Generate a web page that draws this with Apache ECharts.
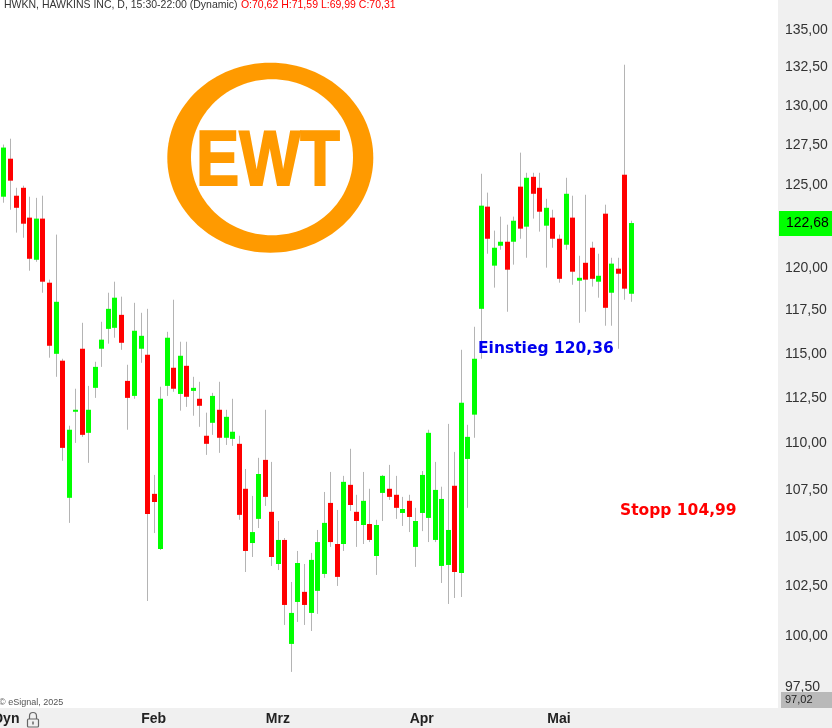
<!DOCTYPE html>
<html>
<head>
<meta charset="utf-8">
<script src="https://cdn.jsdelivr.net/npm/echarts@6/dist/echarts.min.js"></script>
<style>
  html, body { margin: 0; padding: 0; background: #fff; }
  #chart { width: 832px; height: 728px; }
</style>
</head>
<body>
<div id="chart"></div>
<script>
// ---- data (HWKN daily candles) ----
const opens  = [124.29,126.65,124.35,124.84,123.01,120.47,122.95,119.11,114.99,114.60,
                107.08,111.74,115.28,110.58,113.07,115.28,116.42,116.48,117.23,113.46,
                112.62,115.28,114.94,107.29,104.40,113.18,114.20,112.73,114.31,112.90,
                112.46,110.42,111.13,111.85,110.31,110.25,109.98,107.56,104.71,105.97,
                109.11,106.34,103.63,104.87, 99.61,101.70,102.21,101.15,102.26,103.12,
                106.81,104.66,104.66,107.77,106.34,105.65,105.70,104.04,107.34,107.56,
                107.24,106.28,106.92,104.51,106.28,106.02,104.87,103.53,103.58,107.72,
                103.17,109.16,111.58,117.58,123.68,120.12,121.31,121.55,121.55,124.91,
                122.46,125.52,124.84,122.52,123.01,121.73,121.37,123.01,119.23,120.29,
                121.19,119.17,123.25,118.52,119.94,125.65,118.46];
const highs  = [127.54,127.91,124.84,124.97,124.29,124.22,124.35,119.29,121.98,114.71,
                110.97,113.02,116.77,113.18,114.54,116.83,118.52,119.17,118.29,114.37,
                117.93,117.35,117.58,108.30,113.13,116.25,118.11,115.68,115.68,113.69,
                113.41,111.69,112.79,113.41,111.85,112.46,110.42,108.62,107.18,109.22,
                111.85,109.00,105.86,104.97,102.71,104.30,103.63,104.20,105.39,107.39,
                108.46,106.44,108.25,109.71,107.24,108.46,107.56,105.92,108.30,108.84,
                108.25,107.13,107.24,106.55,108.51,110.75,109.00,107.67,111.07,109.54,
                115.22,111.02,116.54,125.71,124.54,122.22,123.07,122.58,123.07,127.03,
                125.77,125.77,125.77,124.16,123.49,121.98,125.46,124.35,120.71,124.41,
                121.55,120.83,123.80,120.59,120.59,132.68,122.82];
const lows   = [123.92,123.49,122.10,121.79,119.82,120.35,118.52,114.77,113.69,109.06,
                105.76,110.03,110.36,108.95,112.51,114.25,115.57,115.91,115.22,110.75,
                112.46,114.48,101.75,105.23,104.35,112.62,112.85,111.80,112.01,111.52,
                110.91,109.38,110.47,109.49,109.92,109.87,105.92,103.22,103.99,105.49,
                106.65,103.53,103.32,100.55, 98.24,100.70,100.55,100.25,101.10,102.92,
                104.51,102.51,104.30,106.39,104.51,104.66,104.76,103.07,105.86,106.97,
                105.97,105.60,105.28,103.48,105.33,104.76,104.76,102.66,101.60,101.90,
                101.95,106.55,110.31,114.71,120.83,118.82,121.07,117.41,120.18,121.73,
                120.59,122.95,122.16,120.00,121.19,119.11,121.07,118.99,116.77,117.41,
                118.88,118.23,116.60,116.60,115.28,118.11,117.99];
const closes = [127.35,125.28,123.61,122.64,120.53,122.95,119.17,115.45,117.99,109.76,
                110.75,111.85,110.47,111.85,114.25,115.80,117.58,118.23,115.62,112.51,
                116.31,116.02,106.23,106.86,112.46,115.91,113.02,114.88,112.57,113.07,
                112.07,109.98,112.62,110.31,111.46,110.64,106.18,104.30,105.28,108.35,
                107.13,103.99,104.87,101.55,101.15,103.68,101.55,103.84,104.76,105.76,
                104.76,102.97,107.93,106.70,105.86,106.92,104.87,105.65,108.25,107.13,
                106.55,106.49,106.07,105.86,108.30,110.58,107.50,107.02,105.39,103.22,
                112.24,110.36,114.71,123.74,121.73,121.19,121.55,119.88,122.82,122.34,
                125.46,124.47,123.37,123.61,121.73,119.34,124.47,119.76,119.40,119.29,
                119.34,119.52,117.64,120.24,119.64,118.76,122.68];

const totalSlots  = 119;                 // bar slots across the pane (incl. empty right margin)
const monthNames  = ['Feb', 'Mrz', 'Apr', 'Mai'];
const monthIdx    = [23, 42, 64, 85];
const yTicks      = [97.5,100,102.5,105,107.5,110,112.5,115,117.5,120,125,127.5,130,132.5,135];
const yMin = 96.5, yMax = 137.0;
const lastPrice = 122.68;
const lowMarker = 97.02;

// ---- build ----
const cats = [];
for (let i = 0; i < totalSlots; i++) cats.push(String(i));
const candleData = opens.map((o, i) => [i, Math.log(o), Math.log(closes[i]), Math.log(lows[i]), Math.log(highs[i])]);

const fmt = v => v.toFixed(2).replace('.', ',');
const FONT = '"Liberation Sans", Arial, sans-serif';

function renderItem(params, api) {
  const x = api.value(0);
  const o = api.value(1), c = api.value(2), l = api.value(3), h = api.value(4);
  const pO = api.coord([x, o]), pC = api.coord([x, c]);
  const pL = api.coord([x, l]), pH = api.coord([x, h]);
  const cx = Math.round(pO[0]);
  const top = Math.min(pO[1], pC[1]), bot = Math.max(pO[1], pC[1]);
  const up = c >= o;
  return {
    type: 'group',
    children: [
      { type: 'line', shape: { x1: cx + 0.5, y1: pH[1], x2: cx + 0.5, y2: pL[1] },
        style: { stroke: '#b4b4b4', lineWidth: 1 } },
      { type: 'rect', shape: { x: cx - 2, y: top, width: 5, height: Math.max(bot - top, 2) },
        style: { fill: up ? '#00ff00' : '#ff0000' } }
    ]
  };
}

const chart = echarts.init(document.getElementById('chart'), null, { renderer: 'canvas' });

const option = {
  animation: false,
  backgroundColor: '#ffffff',
  grid: { left: -2, right: 54, top: 0, bottom: 20, containLabel: false },
  xAxis: {
    type: 'category', data: cats, boundaryGap: true,
    axisLine: { show: false }, axisTick: { show: false }, splitLine: { show: false },
    axisLabel: {
      interval: (i) => monthIdx.indexOf(i) >= 0,
      formatter: (v, i) => { const k = monthIdx.indexOf(i); return k >= 0 ? monthNames[k] : ''; },
      color: '#222', fontWeight: 'bold', fontSize: 14, fontFamily: FONT, margin: 4
    }
  },
  yAxis: {
    type: 'value', position: 'right',
    min: Math.log(yMin), max: Math.log(yMax),
    axisLine: { show: false }, axisTick: { show: false }, splitLine: { show: false },
    axisLabel: {
      customValues: yTicks.map(v => Math.log(v)),
      formatter: v => fmt(Math.exp(v)),
      color: '#333', fontSize: 14, fontFamily: FONT, margin: 7, align: 'left'
    }
  },
  series: [{
    type: 'custom', renderItem: renderItem, data: candleData,
    encode: { x: 0, y: [1, 2, 3, 4] }, clip: true, z: 5
  }]
};
chart.setOption(option);

const yLast = chart.convertToPixel({ yAxisIndex: 0 }, Math.log(lastPrice));

const graphics = [
  // right price panel & bottom time bar backgrounds
  { type: 'rect', z: -10, shape: { x: 778, y: 0, width: 54, height: 708 }, style: { fill: '#f0f0f0' } },
  { type: 'rect', z: -10, shape: { x: 0, y: 708, width: 832, height: 20 }, style: { fill: '#f0f0f0' } },
  // header
  { type: 'text', z: 100, x: 4, y: 5, style: {
      text: '{a|HWKN, HAWKINS INC, D, 15:30-22:00 (Dynamic)} {b|O:70,62 H:71,59 L:69,99 C:70,31}',
      verticalAlign: 'middle',
      rich: {
        a: { fill: '#333', font: '10.5px ' + FONT },
        b: { fill: '#ff0000', font: '10.5px ' + FONT }
      } } },
  // EWT logo
  { type: 'ellipse', z: 50, shape: { cx: 270.3, cy: 157.7, rx: 103, ry: 95 }, style: { fill: '#ff9a00' } },
  { type: 'ellipse', z: 51, shape: { cx: 272, cy: 157.3, rx: 81, ry: 78 }, style: { fill: '#ffffff' } },
  { type: 'text', z: 52, x: 196, y: 163, scaleX: 0.83, style: {
      text: 'EWT', font: 'bold 78px ' + FONT, fill: '#ff9a00', verticalAlign: 'middle',
      stroke: '#ff9a00', lineWidth: 2 } },
  // annotations
  { type: 'text', z: 100, x: 478, y: 349, style: {
      text: 'Einstieg 120,36', font: 'bold 15.5px "DejaVu Sans", sans-serif', fill: '#0000ee', verticalAlign: 'middle' } },
  { type: 'text', z: 100, x: 620, y: 511, style: {
      text: 'Stopp 104,99', font: 'bold 15.5px "DejaVu Sans", sans-serif', fill: '#ff0000', verticalAlign: 'middle' } },
  // last price box
  { type: 'rect', z: 100, shape: { x: 779, y: yLast - 12, width: 53, height: 25 }, style: { fill: '#00ff00' } },
  { type: 'text', z: 101, x: 786, y: yLast + 0.5, style: {
      text: fmt(lastPrice), font: '14px ' + FONT, fill: '#000', verticalAlign: 'middle' } },
  // bottom value marker
  { type: 'rect', z: 100, shape: { x: 781, y: 692, width: 51, height: 16 }, style: { fill: '#b9b9b9' } },
  { type: 'text', z: 101, x: 785, y: 700, style: {
      text: fmt(lowMarker), font: '11px ' + FONT, fill: '#222', verticalAlign: 'middle' } },
  // copyright
  { type: 'text', z: 100, x: -1, y: 703, style: {
      text: '© eSignal, 2025', font: '9px ' + FONT, fill: '#555', verticalAlign: 'middle' } },
  // Dyn + lock icon
  { type: 'text', z: 100, x: -7, y: 719, style: {
      text: 'Dyn', font: 'bold 14px ' + FONT, fill: '#222', verticalAlign: 'middle' } },
  { type: 'arc', z: 100, shape: { cx: 33, cy: 716, r: 3.5, startAngle: Math.PI, endAngle: Math.PI * 2, clockwise: true },
    style: { stroke: '#666', lineWidth: 1.2, fill: null } },
  { type: 'line', z: 100, shape: { x1: 29.5, y1: 716, x2: 29.5, y2: 719 }, style: { stroke: '#666', lineWidth: 1.2 } },
  { type: 'line', z: 100, shape: { x1: 36.5, y1: 716, x2: 36.5, y2: 719 }, style: { stroke: '#666', lineWidth: 1.2 } },
  { type: 'rect', z: 100, shape: { x: 27.5, y: 719, width: 11, height: 8, r: 1 },
    style: { stroke: '#666', lineWidth: 1.2, fill: '#f0f0f0' } },
  { type: 'line', z: 101, shape: { x1: 33, y1: 721.5, x2: 33, y2: 724.5 }, style: { stroke: '#666', lineWidth: 1.5 } }
];
chart.setOption({ graphic: graphics });
</script>
</body>
</html>
